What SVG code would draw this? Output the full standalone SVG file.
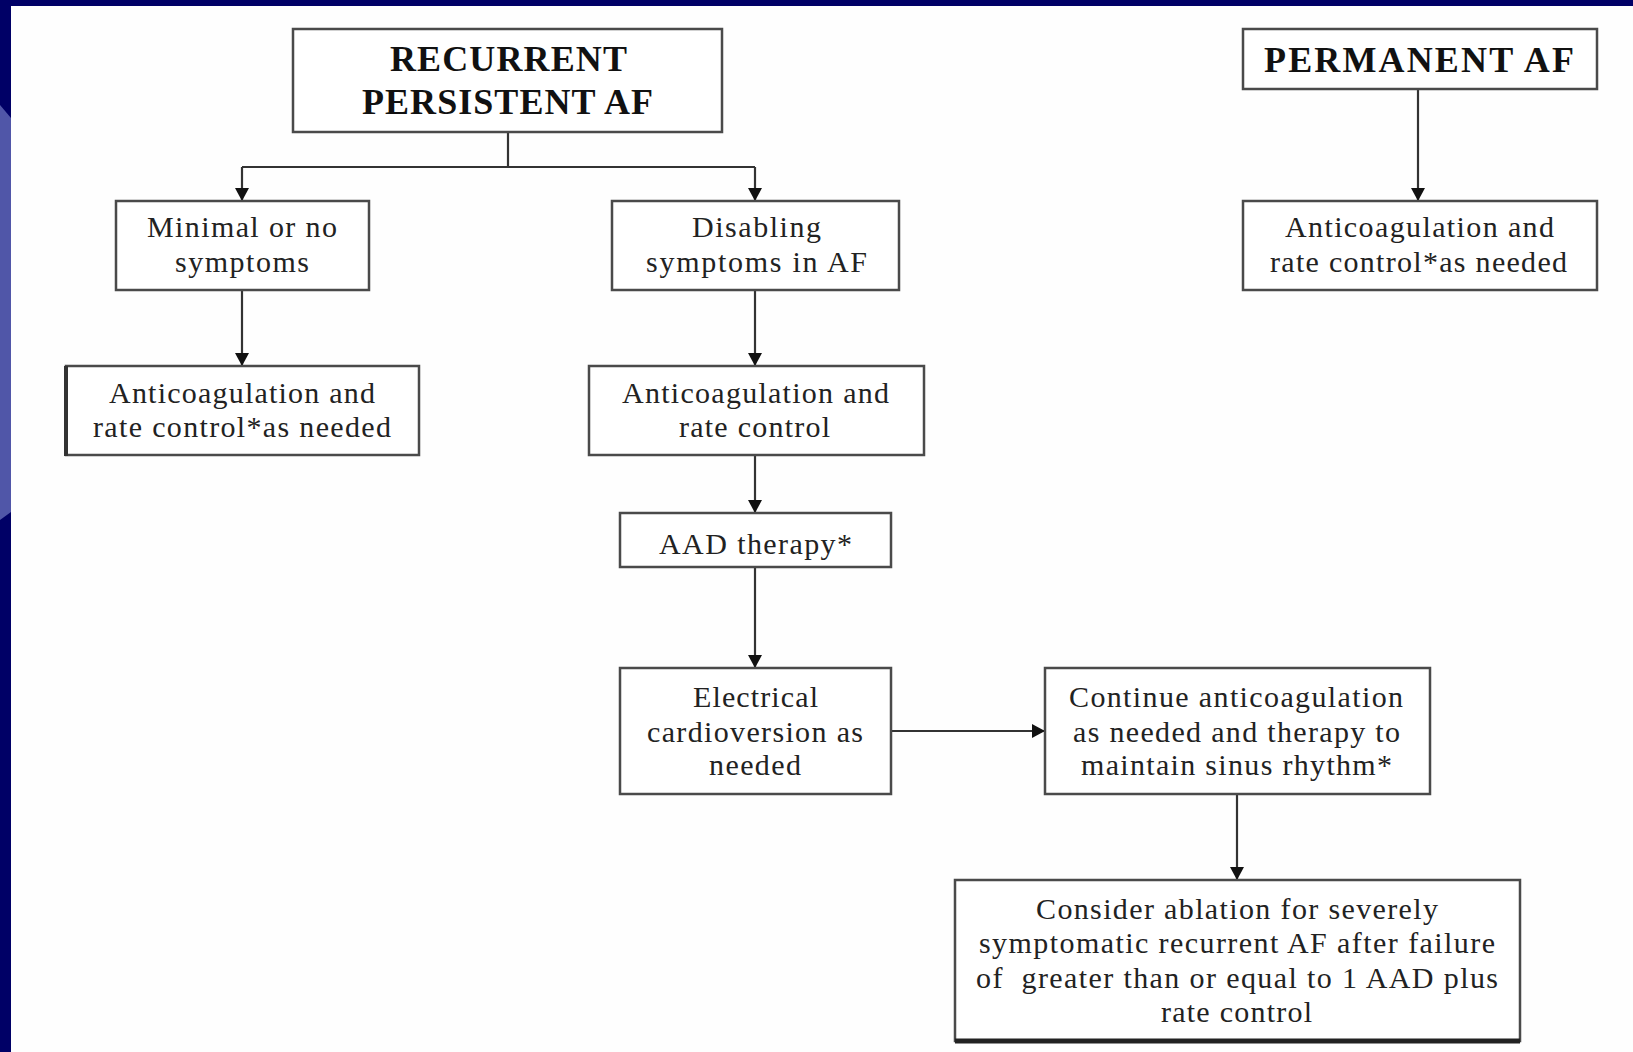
<svg xmlns="http://www.w3.org/2000/svg" width="1633" height="1052" viewBox="0 0 1633 1052">
<style>
.box{fill:#fff;stroke:#4a4a4a;stroke-width:2.5}
.t{font-family:"Liberation Serif","Times New Roman",serif;font-size:30px;fill:#222}
.b{font-family:"Liberation Serif","Times New Roman",serif;font-size:36px;font-weight:bold;fill:#111}
.c{fill:none;stroke:#333;stroke-width:2.2}
</style>
<defs>
<marker id="ah" markerWidth="14" markerHeight="14" refX="13" refY="7" orient="auto" markerUnits="userSpaceOnUse">
<path d="M0,0 L13,7 L0,14 Z" fill="#111"/>
</marker>
</defs>
<rect x="0" y="0" width="1633" height="1052" fill="#000066"/>
<polygon points="0,105 11,118 11,512 0,520" fill="#5056a8"/>
<rect x="11" y="6" width="1622" height="1046" fill="#fefefe"/>

<g id="connectors">
<path class="c" d="M508,132 V167 M242,167 H755"/>
<path class="c" d="M242,167 V201" marker-end="url(#ah)"/>
<path class="c" d="M755,167 V201" marker-end="url(#ah)"/>
<path class="c" d="M242,290 V366" marker-end="url(#ah)"/>
<path class="c" d="M755,290 V366" marker-end="url(#ah)"/>
<path class="c" d="M755,455 V513" marker-end="url(#ah)"/>
<path class="c" d="M755,567 V668" marker-end="url(#ah)"/>
<path class="c" d="M891,731 H1045" marker-end="url(#ah)"/>
<path class="c" d="M1237,794 V880" marker-end="url(#ah)"/>
<path class="c" d="M1418,89 V201" marker-end="url(#ah)"/>
</g>

<g id="recurrent">
<rect class="box" x="293" y="29" width="429" height="103"/>
<text class="b" x="390" y="71" textLength="237">RECURRENT</text>
<text class="b" x="362" y="114" textLength="291">PERSISTENT AF</text>
</g>

<g id="permanent">
<rect class="box" x="1243" y="29" width="354" height="60"/>
<text class="b" x="1264" y="72" textLength="310">PERMANENT AF</text>
</g>

<g id="minimal">
<rect class="box" x="116" y="201" width="253" height="89"/>
<text class="t" x="147" y="237" textLength="190">Minimal or no</text>
<text class="t" x="175" y="272" textLength="134">symptoms</text>
</g>

<g id="disabling">
<rect class="box" x="612" y="201" width="287" height="89"/>
<text class="t" x="692" y="237" textLength="129">Disabling</text>
<text class="t" x="646" y="272" textLength="221">symptoms in AF</text>
</g>

<g id="perm-anticoag">
<rect class="box" x="1243" y="201" width="354" height="89"/>
<text class="t" x="1285" y="237" textLength="269">Anticoagulation and</text>
<text class="t" x="1270" y="272" textLength="297">rate control*as needed</text>
</g>

<g id="left-anticoag">
<rect class="box" x="66" y="366" width="353" height="89"/>
<line x1="66" y1="366" x2="66" y2="456" stroke="#333" stroke-width="4"/>
<text class="t" x="109" y="403" textLength="266">Anticoagulation and</text>
<text class="t" x="93" y="437" textLength="298">rate control*as needed</text>
</g>

<g id="mid-anticoag">
<rect class="box" x="589" y="366" width="335" height="89"/>
<text class="t" x="622" y="403" textLength="267">Anticoagulation and</text>
<text class="t" x="679" y="437" textLength="151">rate control</text>
</g>

<g id="aad">
<rect class="box" x="620" y="513" width="271" height="54"/>
<text class="t" x="659" y="554" textLength="193">AAD therapy*</text>
</g>

<g id="electrical">
<rect class="box" x="620" y="668" width="271" height="126"/>
<text class="t" x="693" y="707" textLength="125">Electrical</text>
<text class="t" x="647" y="742" textLength="216">cardioversion as</text>
<text class="t" x="709" y="775" textLength="92">needed</text>
</g>

<g id="continue">
<rect class="box" x="1045" y="668" width="385" height="126"/>
<text class="t" x="1069" y="707" textLength="334">Continue anticoagulation</text>
<text class="t" x="1073" y="742" textLength="327">as needed and therapy to</text>
<text class="t" x="1081" y="775" textLength="311">maintain sinus rhythm*</text>
</g>

<g id="consider">
<rect class="box" x="955" y="880" width="565" height="161"/>
<line x1="955" y1="1041" x2="1520" y2="1041" stroke="#222" stroke-width="5"/>
<text class="t" x="1036" y="919" textLength="402">Consider ablation for severely</text>
<text class="t" x="979" y="953" textLength="516">symptomatic recurrent AF after failure</text>
<text class="t" x="976" y="988" textLength="522" xml:space="preserve">of  greater than or equal to 1 AAD plus</text>
<text class="t" x="1161" y="1022" textLength="151">rate control</text>
</g>
</svg>
